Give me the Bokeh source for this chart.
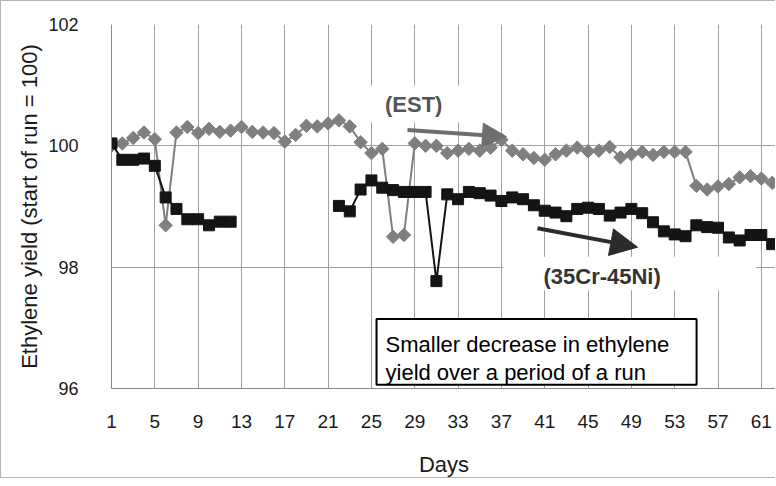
import numpy as np
from bokeh.plotting import figure
from bokeh.models import Range1d, FixedTicker, Arrow, NormalHead
from bokeh.core.properties import value
from bokeh.embed import file_html
from bokeh.resources import INLINE

# ---------------- data ----------------
days = list(range(1, 63))

est = [100.00, 100.04, 100.13, 100.22, 100.11, 98.69, 100.22, 100.31, 100.21, 100.28,
       100.23, 100.25, 100.31, 100.23, 100.22, 100.21, 100.07, 100.18, 100.33, 100.32,
       100.37, 100.42, 100.32, 100.06, 99.88, 99.95, 98.50, 98.53, 100.04, 100.00,
       100.00, 99.88, 99.92, 99.95, 99.92, 99.97, 100.10, 99.92, 99.86, 99.80,
       99.77, 99.86, 99.92, 99.97, 99.91, 99.92, 99.98, 99.81, 99.86, 99.90,
       99.85, 99.90, 99.90, 99.90, 99.34, 99.28, 99.33, 99.37, 99.48, 99.50,
       99.46, 99.39]

nan = float("nan")
crni = [100.04, 99.77, 99.77, 99.79, 99.67, 99.15, 98.96, 98.79, 98.79, 98.69,
        98.75, 98.75, nan, nan, nan, nan, nan, nan, nan, nan,
        nan, 99.01, 98.92, 99.28, 99.43, 99.31, 99.27, 99.24, 99.24, 99.24,
        97.77, 99.20, 99.12, 99.24, 99.22, 99.18, 99.09, 99.15, 99.12, 99.02,
        98.93, 98.90, 98.84, 98.96, 98.98, 98.96, 98.85, 98.90, 98.96, 98.89,
        98.74, 98.59, 98.54, 98.51, 98.69, 98.66, 98.65, 98.49, 98.44, 98.53,
        98.53, 98.38]

x_ticks = list(range(1, 62, 4))
y_ticks = [96, 98, 100, 102]

label_est = "(EST)"
label_crni = "(35Cr-45Ni)"
note_lines = ["Smaller decrease in ethylene", "yield over a period of a run"]

# ---------------- annotation geometry ----------------
EST_ARROW = dict(x0=28.33, y0=100.26, x1=37.47, y1=100.15)
CR_ARROW = dict(x0=40.33, y0=98.64, x1=49.57, y1=98.33)
EST_LABEL = (28.9, 100.68)
CR_LABEL = (46.3, 97.85)
EST_BG = dict(left=22.3, right=35.2, top=100.99, bottom=100.39)
CR_BG = dict(left=37.2, right=60.5, top=98.17, bottom=97.62)
NOTE_BOX = dict(left=25.47, right=55.02, top=97.145, bottom=96.06)
NOTE_TEXT_X = 26.3
NOTE_TEXT_Y = [96.726, 96.264]

FONT = "Liberation Sans"
GRAY = "#7f7f7f"
BLACK = "#141414"

p = figure(width=775, height=478, output_backend="svg", toolbar_location=None,
           x_range=Range1d(1, 62.4), y_range=Range1d(96, 102),
           min_border_left=110, min_border_right=0, min_border_top=23,
           min_border_bottom=87)
p.styles = {"border-left": "1px solid #b4b4b4", "border-top": "1px solid #b4b4b4",
            "border-bottom": "1px solid #b4b4b4"}
p.outline_line_color = None
p.background_fill_color = "white"
p.border_fill_color = "white"

# axes
p.xaxis.ticker = FixedTicker(ticks=x_ticks)
p.yaxis.ticker = FixedTicker(ticks=y_ticks)
for ax in (p.xaxis[0], p.yaxis[0]):
    ax.major_tick_line_color = None
    ax.minor_tick_line_color = None
    ax.axis_line_color = "#8a8a8a"
    ax.major_label_text_font = FONT
    ax.major_label_text_color = "#1a1a1a"
    ax.axis_label_text_font = FONT
    ax.axis_label_text_font_size = "22px"
    ax.axis_label_text_font_style = "normal"
    ax.axis_label_text_color = "#1a1a1a"
p.xaxis.major_label_text_font_size = "19px"
p.yaxis.major_label_text_font_size = "18px"
p.xaxis.axis_label = "Days"
p.yaxis.axis_label = "Ethylene yield (start of run = 100)"
p.xaxis.major_label_standoff = 20
p.xaxis.axis_label_standoff = 21
p.yaxis.major_label_standoff = 27
p.yaxis.axis_label_standoff = 3

p.xgrid.ticker = FixedTicker(ticks=x_ticks)
p.ygrid.ticker = FixedTicker(ticks=y_ticks)
p.xgrid.grid_line_color = "#a0a0a0"
p.ygrid.grid_line_color = "#a0a0a0"

# white backgrounds behind labels (hide gridlines)
for bg in (EST_BG, CR_BG):
    p.quad(left=[bg["left"]], right=[bg["right"]], top=[bg["top"]], bottom=[bg["bottom"]],
           fill_color="white", line_color=None)

# series
p.line(days, est, line_color=GRAY, line_width=2)
p.scatter(days, est, marker="square", angle=np.pi / 4, size=9.5,
          fill_color=GRAY, line_color=GRAY)
p.line(days, crni, line_color=BLACK, line_width=2)
p.scatter(days, crni, marker="square", size=11, fill_color=BLACK, line_color=BLACK)

# note box
p.quad(left=[NOTE_BOX["left"]], right=[NOTE_BOX["right"]], top=[NOTE_BOX["top"]],
       bottom=[NOTE_BOX["bottom"]], fill_color="white", line_color="black", line_width=2)
p.text(x=[NOTE_TEXT_X] * 2, y=NOTE_TEXT_Y, text=note_lines, text_font=value(FONT),
       text_font_size="22px", text_color="black", text_baseline="alphabetic",
       text_align="left")

# labels
p.text(x=[EST_LABEL[0]], y=[EST_LABEL[1]], text=[label_est], text_font=value(FONT),
       text_font_size="22px", text_font_style="bold", text_color="#555555",
       text_align="center", text_baseline="middle")
p.text(x=[CR_LABEL[0]], y=[CR_LABEL[1]], text=[label_crni], text_font=value(FONT),
       text_font_size="22px", text_font_style="bold", text_color="#333333",
       text_align="center", text_baseline="middle")

# arrows
p.add_layout(Arrow(end=NormalHead(size=24, fill_color="#6e6e6e", line_color="#6e6e6e"),
                   x_start=EST_ARROW["x0"], y_start=EST_ARROW["y0"],
                   x_end=EST_ARROW["x1"], y_end=EST_ARROW["y1"],
                   line_color="#6e6e6e", line_width=4))
p.add_layout(Arrow(end=NormalHead(size=27, fill_color="#2b2b2b", line_color="#2b2b2b"),
                   x_start=CR_ARROW["x0"], y_start=CR_ARROW["y0"],
                   x_end=CR_ARROW["x1"], y_end=CR_ARROW["y1"],
                   line_color="#2b2b2b", line_width=4))

open("out.html", "w").write(file_html(p, INLINE))
